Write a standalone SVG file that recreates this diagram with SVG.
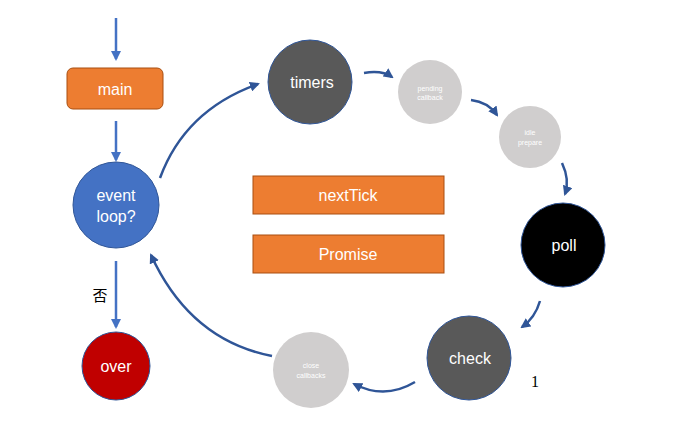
<svg xmlns="http://www.w3.org/2000/svg" width="689" height="438" viewBox="0 0 689 438">
<defs>
<marker id="ah" viewBox="0 0 10 10" refX="8" refY="5" markerWidth="4" markerHeight="4" orient="auto" markerUnits="strokeWidth">
<path d="M0,0 L10,5 L0,10 z" fill="#2F5597"/>
</marker>
<marker id="ah2" viewBox="0 0 10 10" refX="8" refY="5" markerWidth="4" markerHeight="4" orient="auto" markerUnits="strokeWidth">
<path d="M0,0 L10,5 L0,10 z" fill="#4472C4"/>
</marker>
<style>
text{font-family:"Liberation Sans","Noto Sans CJK SC",sans-serif;text-anchor:middle;dominant-baseline:central;fill:#fff}
.big{font-size:16px}
.small{font-size:7px}
.c{stroke:#2F5597;stroke-width:1}
.box{fill:#ED7D31;stroke:#A94F10;stroke-width:1}
.curve{fill:none;stroke:#2F5597;stroke-width:2.5;marker-end:url(#ah)}
.straight{fill:none;stroke:#4472C4;stroke-width:2.5;marker-end:url(#ah2)}
</style>
</defs>
<rect width="689" height="438" fill="#fff"/>
<g id="connectors">
<path class="straight" d="M116,18 L116,59"/>
<path class="straight" d="M116,121 L116,160"/>
<path class="straight" d="M116,261 L116,327"/>
<path class="curve" d="M160,178 Q185,110 258,84"/>
<path class="curve" d="M364,73 Q382,70 392,77"/>
<path class="curve" d="M471,100 Q488,102 497,115"/>
<path class="curve" d="M562,163 Q570,180 565,194"/>
<path class="curve" d="M540,301 Q535,318 522,327"/>
<path class="curve" d="M415,382 Q385,400 354,384"/>
<path class="curve" d="M272,356 Q190,340 151,255"/>
</g>
<g id="main"><rect class="box" x="67" y="68" width="96" height="41" rx="6"/><text class="big" x="115" y="89">main</text></g>
<g id="eventloop"><circle class="c" cx="116" cy="205" r="43" fill="#4472C4"/><text class="big" x="116" y="195">event</text><text class="big" x="116" y="216">loop?</text></g>
<g id="label-no"><text x="100" y="294" style="fill:#000;font-size:15px;font-family:'Noto Sans CJK SC',sans-serif">否</text></g>
<g id="over"><circle class="c" cx="116" cy="366" r="34" fill="#C00000" stroke="#C00000"/><text class="big" x="116" y="366">over</text></g>
<g id="timers"><circle class="c" cx="310" cy="82" r="42" fill="#595959"/><text class="big" x="312" y="82">timers</text></g>
<g id="pending"><circle cx="430" cy="92" r="32" fill="#D0CECE"/><text class="small" x="430" y="88">pending</text><text class="small" x="430" y="97">callback</text></g>
<g id="idle"><circle cx="530" cy="137" r="31" fill="#D0CECE"/><text class="small" x="530" y="132">idle</text><text class="small" x="530" y="142">prepare</text></g>
<g id="poll"><circle class="c" cx="563" cy="245" r="42" fill="#000"/><text class="big" x="564" y="245">poll</text></g>
<g id="check"><circle class="c" cx="469" cy="358" r="42" fill="#595959"/><text class="big" x="470" y="358">check</text></g>
<g id="close"><circle cx="311" cy="370" r="38" fill="#D0CECE"/><text class="small" x="311" y="365">close</text><text class="small" x="311" y="375">callbacks</text></g>
<g id="label-1"><text x="535" y="381" style="fill:#000;font-size:16px;font-family:'Liberation Serif',serif">1</text></g>
<g id="nextTick"><rect class="box" x="253" y="176" width="191" height="38"/><text class="big" x="348" y="195">nextTick</text></g>
<g id="promise"><rect class="box" x="253" y="235" width="191" height="38"/><text class="big" x="348" y="254">Promise</text></g>
</svg>
